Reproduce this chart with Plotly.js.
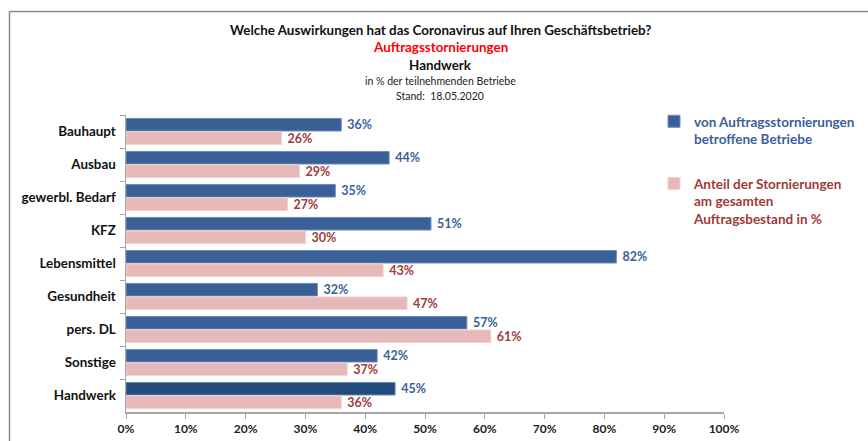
<!DOCTYPE html>
<html>
<head>
<meta charset="utf-8">
<script src="https://cdn.plot.ly/plotly-3.0.1.min.js"></script>
<style>
  html, body { margin: 0; padding: 0; background: #fff; }
  #chart { width: 868px; height: 441px; }
</style>
</head>
<body>
<div id="chart"></div>
<script>
/* Auftragsstornierungen im Handwerk — Stand 18.05.2020 */
var categories = ['Bauhaupt', 'Ausbau', 'gewerbl. Bedarf', 'KFZ', 'Lebensmittel',
                  'Gesundheit', 'pers. DL', 'Sonstige', 'Handwerk'];
var betroffen = [36, 44, 35, 51, 82, 32, 57, 42, 45];      // % betroffene Betriebe
var anteil = [26, 29, 27, 30, 43, 47, 61, 37, 36];         // % am Auftragsbestand
var xTicks = [0, 10, 20, 30, 40, 50, 60, 70, 80, 90, 100];

var BLUE = '#3a6097', BLUE_DARK = '#234a7d', PINK = '#e6b9b8';
var BLUE_TXT = '#3a5f9c', RED_TXT = '#9e3b3b';
var FONT = 'Lato, "Open Sans", sans-serif';

function pct(v) { return v + '%'; }

var blueColors = categories.map(function (c) { return c === 'Handwerk' ? BLUE_DARK : BLUE; });

var traces = [
  {
    type: 'bar', orientation: 'h', y: categories, x: betroffen,
    name: '<span style="color:' + BLUE_TXT + '">von Auftragsstornierungen<br>betroffene Betriebe</span>',
    marker: { color: blueColors, line: { color: '#6d8cbc', width: 1 } },
    text: betroffen.map(function (v) { return ' ' + pct(v); }), textposition: 'outside', cliponaxis: false,
    constraintext: 'none',
    textfont: { family: FONT, size: 12.5, color: BLUE_TXT, weight: 'bold' },
    legendgroup: 'a', hoverinfo: 'skip'
  },
  {
    type: 'bar', orientation: 'h', y: categories, x: anteil,
    name: '<span style="color:' + RED_TXT + '">Anteil der Stornierungen<br>am gesamten<br>Auftragsbestand in %</span>',
    marker: { color: PINK, line: { color: '#f0d3d2', width: 1 } },
    text: anteil.map(function (v) { return ' ' + pct(v); }), textposition: 'outside', cliponaxis: false,
    constraintext: 'none',
    textfont: { family: FONT, size: 12.5, color: RED_TXT, weight: 'bold' },
    legendgroup: 'b', hoverinfo: 'skip'
  }
];

// Titelzeilen als Annotationen (Mitte bei x=440px)
var TX = (440 - 126) / 598;
function py(px) { return (412 - px) / 297; }
var titleLines = [
  { text: '<b>Welche Auswirkungen hat das Coronavirus auf Ihren Geschäftsbetrieb?</b>', y: 30.5, size: 13.4, color: '#111' },
  { text: '<b>Auftragsstornierungen</b>', y: 46.5, size: 13.4, color: '#ff0000' },
  { text: '<b>Handwerk</b>', y: 65, size: 13.4, color: '#111' },
  { text: 'in % der teilnehmenden Betriebe', y: 81, size: 10.5, color: '#222' },
  { text: 'Stand:  18.05.2020', y: 96, size: 10.5, color: '#222' }
];
var annotations = titleLines.map(function (t) {
  return { xref: 'paper', yref: 'paper', x: TX, y: py(t.y), xanchor: 'center', yanchor: 'middle',
           text: t.text, showarrow: false, font: { family: FONT, size: t.size, color: t.color } };
});

// Rahmen oben und links
var fx = (9.5 - 126) / 598, fy = py(11.5);
var shapes = [
  { type: 'line', xref: 'paper', yref: 'paper', x0: fx, x1: 1.3, y0: fy, y1: fy, line: { color: '#8a8a8a', width: 1.5 } },
  { type: 'line', xref: 'paper', yref: 'paper', x0: fx, x1: fx, y0: fy, y1: -0.2, line: { color: '#8a8a8a', width: 1.5 } }
];

var layout = {
  width: 868, height: 441,
  margin: { l: 126, r: 144, t: 115, b: 29, autoexpand: false },
  paper_bgcolor: '#fff', plot_bgcolor: '#fff',
  font: { family: FONT, size: 12, color: '#222' },
  barmode: 'group', bargap: 0.18, bargroupgap: 0.07,
  showlegend: true,
  legend: {
    x: (654 - 126) / 598, y: py(106), xanchor: 'left', yanchor: 'top',
    valign: 'top', tracegroupgap: 24, itemwidth: 30,
    font: { family: FONT, size: 13.5, weight: 'bold' },
    bgcolor: 'rgba(0,0,0,0)'
  },
  xaxis: {
    range: [0, 100], tickvals: xTicks, ticktext: xTicks.map(pct),
    showgrid: false, zeroline: false, showline: true, linecolor: '#a6a6a6', linewidth: 1.5,
    ticks: 'outside', ticklen: 5, tickcolor: '#a6a6a6',
    tickfont: { family: FONT, size: 12, color: '#222', weight: 'bold' },
    fixedrange: true
  },
  yaxis: {
    autorange: 'reversed', type: 'category',
    showgrid: false, zeroline: false, showline: true, linecolor: '#a6a6a6', linewidth: 1.5,
    ticks: 'outside', ticklen: 5, tickcolor: '#a6a6a6', tickson: 'boundaries',
    ticklabelstandoff: 6,
    tickfont: { family: FONT, size: 13.4, color: '#111', weight: 'bold' },
    fixedrange: true
  },
  annotations: annotations,
  shapes: shapes
};

Plotly.newPlot('chart', traces, layout, { displayModeBar: false, staticPlot: true });
</script>
</body>
</html>
